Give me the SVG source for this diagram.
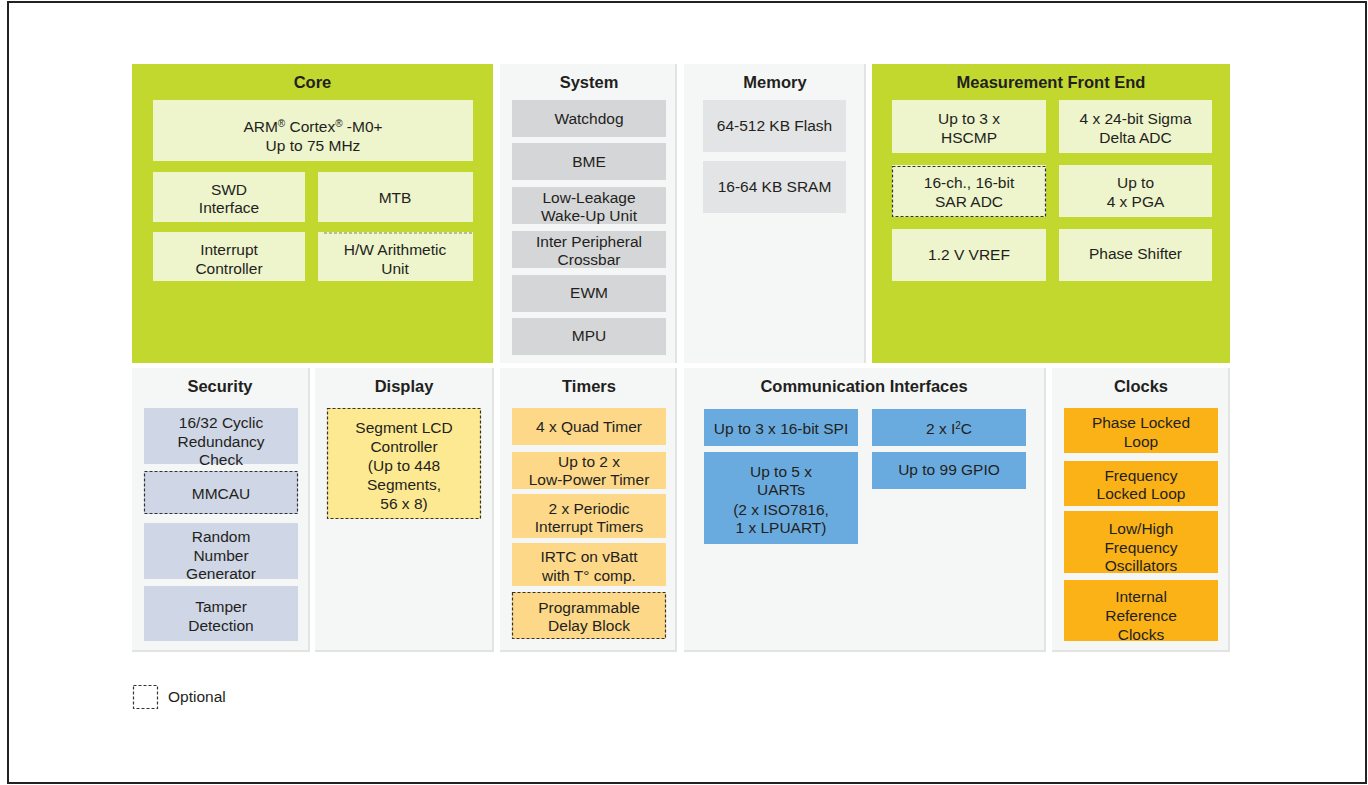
<svg xmlns="http://www.w3.org/2000/svg" width="1368" height="785" viewBox="0 0 1368 785">
<style>
text{font-family:"Liberation Sans",Arial,sans-serif;fill:#231f20;text-anchor:middle}
.h{font-size:16.5px;font-weight:bold}
.t{font-size:15.5px}
.sup{font-size:10px}
.panel{fill:#f5f7f7}
.shadow{fill:#e2e4e4}
.green{fill:#c2d82f}
.lg{fill:#eef4cc}
.sys{fill:#d5d6d8}
.mem{fill:#e3e4e6}
.sec{fill:#cfd6e6}
.lcd{fill:#fde991}
.tim{fill:#fdd888}
.com{fill:#6aabdf}
.clk{fill:#fbb216}
.dash{stroke:#333;stroke-width:1.2;stroke-dasharray:3 2;fill:none}
</style>
<rect x="8" y="2" width="1358" height="781" fill="#fff" stroke="#222" stroke-width="2"/>

<g id="core">
<rect class="green" x="132" y="64" width="361" height="299"/>
<text class="h" x="312.5" y="88">Core</text>
<g id="core-arm"><rect class="lg" x="153" y="100" width="320" height="61"/>
<text class="t" x="313" y="131.5">ARM<tspan class="sup" dy="-5">®</tspan><tspan dy="5"> Cortex</tspan><tspan class="sup" dy="-5">®</tspan><tspan dy="5"> -M0+</tspan></text>
<text class="t" x="313" y="150.5">Up to 75 MHz</text></g>
<g id="core-swd"><rect class="lg" x="153" y="172" width="152" height="50"/>
<text class="t" x="229" y="194.5">SWD</text><text class="t" x="229" y="212.5">Interface</text></g>
<g id="core-mtb"><rect class="lg" x="318" y="172" width="155" height="50"/>
<text class="t" x="395" y="202.5">MTB</text></g>
<g id="core-int"><rect class="lg" x="153" y="232" width="152" height="49"/>
<text class="t" x="229" y="254.5">Interrupt</text><text class="t" x="229" y="273.5">Controller</text></g>
<g id="core-hw"><rect class="lg" x="318" y="232" width="155" height="49"/>
<line x1="324" y1="233" x2="473" y2="233" stroke="#7d8a4a" stroke-width="1.2" stroke-dasharray="3 2"/>
<text class="t" x="395" y="254.5">H/W Arithmetic</text><text class="t" x="395" y="273.5">Unit</text></g>
</g>

<g id="system">
<rect class="shadow" x="500" y="64" width="177" height="299"/>
<rect class="panel" x="500" y="64" width="175" height="299"/>
<text class="h" x="589" y="88">System</text>
<g id="sys-wd"><rect class="sys" x="512" y="100" width="154" height="37"/><text class="t" x="589" y="123.5">Watchdog</text></g>
<g id="sys-bme"><rect class="sys" x="512" y="143" width="154" height="37"/><text class="t" x="589" y="166.5">BME</text></g>
<g id="sys-llwu"><rect class="sys" x="512" y="187" width="154" height="37"/><text class="t" x="589" y="202.5">Low-Leakage</text><text class="t" x="589" y="220.5">Wake-Up Unit</text></g>
<g id="sys-xbar"><rect class="sys" x="512" y="231" width="154" height="37"/><text class="t" x="589" y="246.5">Inter Peripheral</text><text class="t" x="589" y="264.5">Crossbar</text></g>
<g id="sys-ewm"><rect class="sys" x="512" y="275" width="154" height="37"/><text class="t" x="589" y="297.5">EWM</text></g>
<g id="sys-mpu"><rect class="sys" x="512" y="318" width="154" height="37"/><text class="t" x="589" y="340.5">MPU</text></g>
</g>

<g id="memory">
<rect class="shadow" x="684" y="64" width="182" height="299"/>
<rect class="panel" x="684" y="64" width="180" height="299"/>
<text class="h" x="775" y="88">Memory</text>
<g id="mem-flash"><rect class="mem" x="703" y="100" width="143" height="52"/><text class="t" x="774.5" y="130.5">64-512 KB Flash</text></g>
<g id="mem-sram"><rect class="mem" x="703" y="161" width="143" height="52"/><text class="t" x="774.5" y="191.5">16-64 KB SRAM</text></g>
</g>

<g id="mfe">
<rect class="green" x="872" y="64" width="358" height="299"/>
<text class="h" x="1051" y="88">Measurement Front End</text>
<g id="mfe-hscmp"><rect class="lg" x="892" y="100" width="154" height="53"/><text class="t" x="969" y="123.5">Up to 3 x</text><text class="t" x="969" y="142.5">HSCMP</text></g>
<g id="mfe-sdadc"><rect class="lg" x="1059" y="100" width="153" height="53"/><text class="t" x="1135.5" y="123.5">4 x 24-bit Sigma</text><text class="t" x="1135.5" y="142.5">Delta ADC</text></g>
<g id="mfe-sar"><rect class="lg" x="892" y="165" width="154" height="52"/><rect class="dash" x="892.5" y="166.5" width="153" height="50"/><text class="t" x="969" y="187.5">16-ch., 16-bit</text><text class="t" x="969" y="206.5">SAR ADC</text></g>
<g id="mfe-pga"><rect class="lg" x="1059" y="165" width="153" height="52"/><text class="t" x="1135.5" y="187.5">Up to</text><text class="t" x="1135.5" y="206.5">4 x PGA</text></g>
<g id="mfe-vref"><rect class="lg" x="892" y="229" width="154" height="52"/><text class="t" x="969" y="259.5">1.2 V VREF</text></g>
<g id="mfe-phase"><rect class="lg" x="1059" y="229" width="153" height="52"/><text class="t" x="1135.5" y="258.5">Phase Shifter</text></g>
</g>

<g id="security">
<rect class="shadow" x="132" y="368" width="178" height="284"/>
<rect class="panel" x="132" y="368" width="176" height="282"/>
<text class="h" x="220" y="392">Security</text>
<g id="sec-crc"><rect class="sec" x="144" y="408" width="154" height="56"/><text class="t" x="221" y="427.5">16/32 Cyclic</text><text class="t" x="221" y="446.5">Redundancy</text><text class="t" x="221" y="464.5">Check</text></g>
<g id="sec-mmcau"><rect class="sec" x="144" y="471" width="154" height="43"/><rect class="dash" x="144.5" y="471.5" width="153" height="42"/><text class="t" x="221" y="498.5">MMCAU</text></g>
<g id="sec-rng"><rect class="sec" x="144" y="523" width="154" height="56"/><text class="t" x="221" y="541.5">Random</text><text class="t" x="221" y="560.5">Number</text><text class="t" x="221" y="578.5">Generator</text></g>
<g id="sec-tamper"><rect class="sec" x="144" y="586" width="154" height="55"/><text class="t" x="221" y="611.5">Tamper</text><text class="t" x="221" y="630.5">Detection</text></g>
</g>

<g id="display">
<rect class="shadow" x="315" y="368" width="179" height="284"/>
<rect class="panel" x="315" y="368" width="177" height="282"/>
<text class="h" x="404" y="392">Display</text>
<g id="disp-lcd"><rect class="lcd" x="327" y="408" width="154" height="111"/><rect class="dash" x="327.5" y="408.5" width="153" height="110"/>
<text class="t" x="404" y="433">Segment LCD</text><text class="t" x="404" y="452">Controller</text><text class="t" x="404" y="471">(Up to 448</text><text class="t" x="404" y="490">Segments,</text><text class="t" x="404" y="509">56 x 8)</text></g>
</g>

<g id="timers">
<rect class="shadow" x="500" y="368" width="177" height="284"/>
<rect class="panel" x="500" y="368" width="175" height="282"/>
<text class="h" x="589" y="392">Timers</text>
<g id="tim-quad"><rect class="tim" x="512" y="408" width="154" height="37"/><text class="t" x="589" y="431.5">4 x Quad Timer</text></g>
<g id="tim-lpt"><rect class="tim" x="512" y="452" width="154" height="37"/><text class="t" x="589" y="466.5">Up to 2 x</text><text class="t" x="589" y="484.5">Low-Power Timer</text></g>
<g id="tim-pit"><rect class="tim" x="512" y="494" width="154" height="44"/><text class="t" x="589" y="513.5">2 x Periodic</text><text class="t" x="589" y="531.5">Interrupt Timers</text></g>
<g id="tim-irtc"><rect class="tim" x="512" y="543" width="154" height="43"/><text class="t" x="589" y="561.5">IRTC on vBatt</text><text class="t" x="589" y="580.5">with T° comp.</text></g>
<g id="tim-pdb"><rect class="tim" x="512" y="592" width="154" height="47"/><rect class="dash" x="512.5" y="592.5" width="153" height="46"/><text class="t" x="589" y="612.5">Programmable</text><text class="t" x="589" y="630.5">Delay Block</text></g>
</g>

<g id="comm">
<rect class="shadow" x="684" y="368" width="362" height="284"/>
<rect class="panel" x="684" y="368" width="360" height="282"/>
<text class="h" x="864" y="392">Communication Interfaces</text>
<g id="com-spi"><rect class="com" x="704" y="409" width="154" height="37"/><text class="t" x="781" y="433.5">Up to 3 x 16-bit SPI</text></g>
<g id="com-uart"><rect class="com" x="704" y="452" width="154" height="92"/><text class="t" x="781" y="476.5">Up to 5 x</text><text class="t" x="781" y="494.5">UARTs</text><text class="t" x="781" y="514.5">(2 x ISO7816,</text><text class="t" x="781" y="532.5">1 x LPUART)</text></g>
<g id="com-i2c"><rect class="com" x="872" y="409" width="154" height="37"/><text class="t" x="949" y="433.5">2 x I<tspan class="sup" dy="-5">2</tspan><tspan dy="5">C</tspan></text></g>
<g id="com-gpio"><rect class="com" x="872" y="452" width="154" height="37"/><text class="t" x="949" y="474.5">Up to 99 GPIO</text></g>
</g>

<g id="clocks">
<rect class="shadow" x="1052" y="368" width="178" height="284"/>
<rect class="panel" x="1052" y="368" width="176" height="282"/>
<text class="h" x="1141" y="392">Clocks</text>
<g id="clk-pll"><rect class="clk" x="1064" y="408" width="154" height="45"/><text class="t" x="1141" y="427.5">Phase Locked</text><text class="t" x="1141" y="446.5">Loop</text></g>
<g id="clk-fll"><rect class="clk" x="1064" y="461" width="154" height="45"/><text class="t" x="1141" y="480.5">Frequency</text><text class="t" x="1141" y="498.5">Locked Loop</text></g>
<g id="clk-osc"><rect class="clk" x="1064" y="511" width="154" height="62"/><text class="t" x="1141" y="533.5">Low/High</text><text class="t" x="1141" y="552.5">Frequency</text><text class="t" x="1141" y="570.5">Oscillators</text></g>
<g id="clk-irc"><rect class="clk" x="1064" y="580" width="154" height="61"/><text class="t" x="1141" y="601.5">Internal</text><text class="t" x="1141" y="620.5">Reference</text><text class="t" x="1141" y="639.5">Clocks</text></g>
</g>

<g id="legend">
<rect class="dash" x="133.5" y="685.5" width="24" height="23"/>
<text class="t" x="168" y="702" style="text-anchor:start">Optional</text>
</g>
<g id="connectors"></g>
</svg>
